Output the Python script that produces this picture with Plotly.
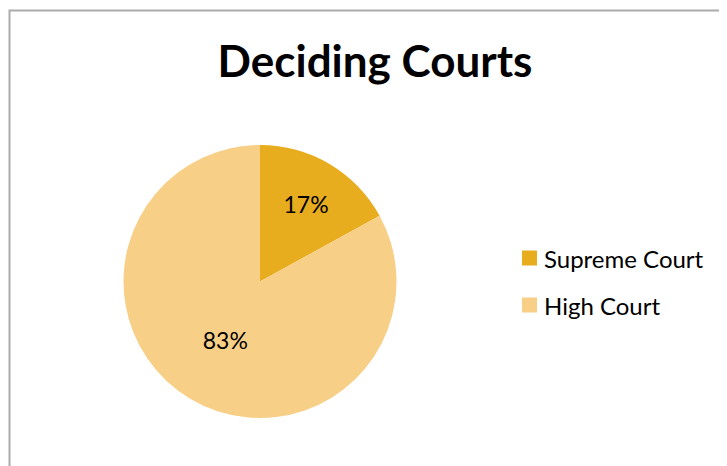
import plotly.graph_objects as go

courts = ["Supreme Court", "High Court"]
shares = [17, 83]
colors = ["#E8AD1E", "#F8CF86"]

W, H = 719, 458   # page body has an 8px margin inside the 727x466 window
OFF = 8
FONT = "Lato, Carlito, Calibri, sans-serif"


def px(x):
    return (x - OFF) / W


def py(y):
    return 1 - (y - OFF) / H


fig = go.Figure(go.Pie(
    labels=courts,
    values=shares,
    sort=False,
    direction="clockwise",
    rotation=0,
    marker=dict(colors=colors, line=dict(width=0)),
    textinfo="percent",
    textposition="inside",
    insidetextorientation="horizontal",
    textfont=dict(family=FONT, size=23, color="#000000"),
    domain=dict(x=[px(123), px(397)], y=[py(418), py(145)]),
    showlegend=False,
))

annotations = []
shapes = [dict(type="rect", xref="paper", yref="paper",
               x0=px(9.5), x1=1.05, y0=-0.05, y1=py(10.5),
               line=dict(color="#ABABAB", width=2), fillcolor="rgba(0,0,0,0)")]

# legend (swatch + label for each category)
row_y = [258, 305]
for name, col, yc in zip(courts, colors, row_y):
    shapes.append(dict(type="rect", xref="paper", yref="paper",
                       x0=px(522), x1=px(537), y0=py(yc + 7.5), y1=py(yc - 7.5),
                       line=dict(width=0), fillcolor=col))
    annotations.append(dict(text=name, xref="paper", yref="paper",
                            x=px(542), y=py(yc), xanchor="left", yanchor="middle",
                            showarrow=False,
                            font=dict(family=FONT, size=24, color="#000000")))

fig.update_layout(
    width=W, height=H,
    margin=dict(l=0, r=0, t=0, b=0),
    paper_bgcolor="white",
    plot_bgcolor="white",
    title=dict(text="<b>Deciding Courts</b>", x=px(375), xanchor="center",
               y=py(62), yanchor="middle", yref="container",
               font=dict(family=FONT, size=44, color="#000000")),
    shapes=shapes,
    annotations=annotations,
)

fig.write_html("out.html")
